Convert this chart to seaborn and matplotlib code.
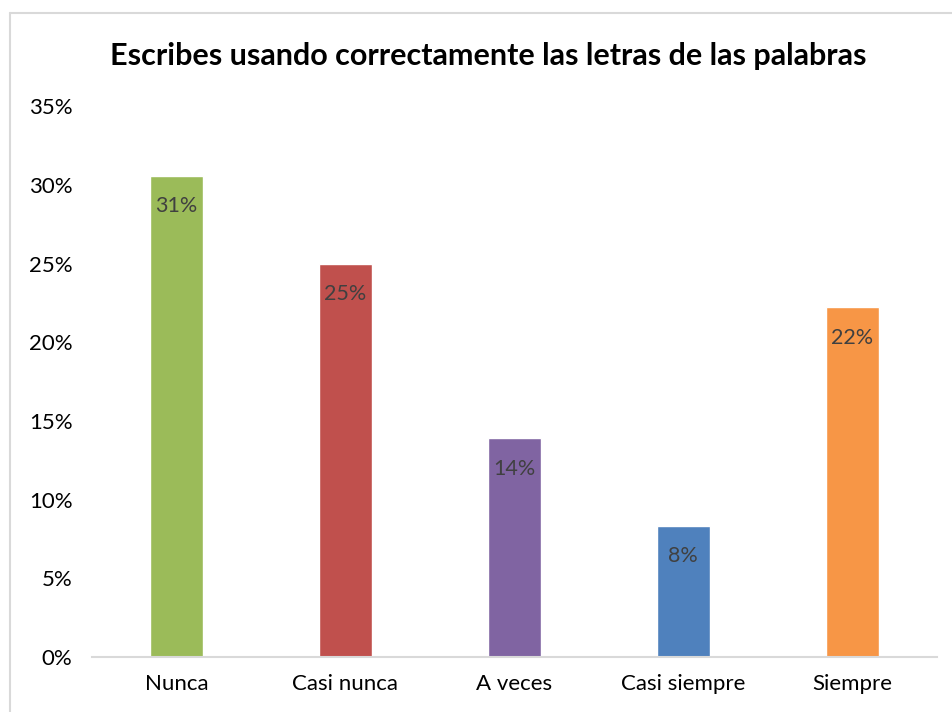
import matplotlib
matplotlib.use("Agg")
import matplotlib.pyplot as plt
import pandas as pd
import seaborn as sns
from matplotlib.lines import Line2D
from matplotlib.ticker import FuncFormatter, MultipleLocator

# data
categories = ["Nunca", "Casi nunca", "A veces", "Casi siempre", "Siempre"]
percentages = [30.56, 25.0, 13.89, 8.33, 22.22]
bar_colors = ["#9BBB59", "#C0504D", "#8064A2", "#4F81BD", "#F79646"]
title = "Escribes usando correctamente las letras de las palabras"

sns.set_theme(style="white")
plt.rcParams["font.family"] = ["Lato", "DejaVu Sans"]

df = pd.DataFrame({"categoria": categories, "porcentaje": percentages})

fig = plt.figure(figsize=(9.53, 7.12), dpi=100)
ax = fig.add_axes([0.0965, 0.0772, 0.8865, 0.7738])

sns.barplot(
    data=df,
    x="categoria",
    y="porcentaje",
    hue="categoria",
    palette=bar_colors,
    width=0.31,
    legend=False,
    saturation=1,
    ax=ax,
)

ax.set_ylim(0, 35)
ax.yaxis.set_major_locator(MultipleLocator(5))
ax.yaxis.set_major_formatter(FuncFormatter(lambda v, _: f"{v:.0f}%"))
ax.set_xlabel("")
ax.set_ylabel("")
ax.tick_params(axis="both", labelsize=16, colors="#000000", length=0)
ax.tick_params(axis="y", pad=14)
ax.tick_params(axis="x", pad=12)

for side in ["top", "right", "left"]:
    ax.spines[side].set_visible(False)
ax.spines["bottom"].set_color("#D9D9D9")
ax.spines["bottom"].set_linewidth(1.5)

for container in ax.containers:
    ax.bar_label(
        container,
        labels=[f"{b.get_height():.0f}%" for b in container],
        label_type="edge",
        padding=-29,
        fontsize=15.5,
        color="#404040",
    )

fig.text(0.512, 0.922, title, ha="center", va="center", fontsize=22,
         fontweight="bold", color="#000000")

# light frame of the chart area (top and left edges visible)
fig.add_artist(Line2D([0.011, 1.0], [0.982, 0.982], color="#D9D9D9", lw=1.5))
fig.add_artist(Line2D([0.011, 0.011], [0.0, 0.982], color="#D9D9D9", lw=1.5))

fig.savefig("out.png", dpi=100)
